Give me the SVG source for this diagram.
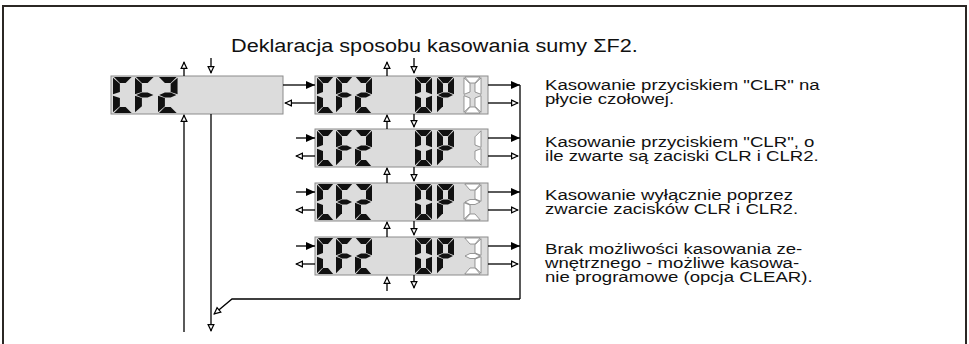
<svg xmlns="http://www.w3.org/2000/svg" xmlns:xlink="http://www.w3.org/1999/xlink" width="969" height="344" viewBox="0 0 969 344">
<style>
.frame{fill:none;stroke:#2b2724;stroke-width:2}
.box{fill:#dcdcdc;stroke:#8c8c8c;stroke-width:1}
.on{fill:#111111}
.off{fill:#ffffff;stroke:#707070;stroke-width:0.7}
.ln{fill:none;stroke:#000;stroke-width:1.3}
.f{marker-end:url(#af)}
.h{marker-end:url(#ah)}
text{font-family:"Liberation Sans",Arial,sans-serif;fill:#111}
.t{font-size:15.5px}
.title{font-size:19px}
</style>
<defs>
<marker id="af" markerUnits="userSpaceOnUse" markerWidth="12" markerHeight="10" refX="9" refY="4" orient="auto" overflow="visible"><path d="M0,0 L9,4 L0,8 z" fill="#000"/></marker>
<marker id="ah" markerUnits="userSpaceOnUse" markerWidth="12" markerHeight="10" refX="7" refY="3.5" orient="auto" overflow="visible"><path d="M0.6,0.6 L6.6,3.5 L0.6,6.4 z" fill="#fff" stroke="#000" stroke-width="1.2"/></marker>
<polygon id="sa" points="0.8,0 16.2,0 11,6 6,6"/>
<polygon id="sb" points="17,0.8 11,6.8 11,15 17,17.3"/>
<polygon id="sc" points="17,18.7 11,21 11,29.2 17,35.2"/>
<polygon id="sd" points="0.8,36 6,30 11,30 16.2,36"/>
<polygon id="se" points="0,18.7 6,21 6,29.2 0,35.2"/>
<polygon id="sf" points="0,0.8 6,6.8 6,15 0,17.3"/>
<polygon id="sg" points="1,18 6,15.5 11,15.5 16,18 11,20.5 6,20.5"/>
<g id="gC"><use xlink:href="#sa"/><use xlink:href="#sf"/><use xlink:href="#se"/><use xlink:href="#sd"/></g>
<g id="gF"><use xlink:href="#sa"/><use xlink:href="#sf"/><use xlink:href="#se"/><use xlink:href="#sg"/></g>
<g id="g2"><use xlink:href="#sa"/><use xlink:href="#sb"/><use xlink:href="#sg"/><use xlink:href="#se"/><use xlink:href="#sd"/></g>
<g id="g0"><use xlink:href="#sa"/><use xlink:href="#sb"/><use xlink:href="#sc"/><use xlink:href="#sd"/><use xlink:href="#se"/><use xlink:href="#sf"/></g>
<g id="gP"><use xlink:href="#sa"/><use xlink:href="#sb"/><use xlink:href="#sf"/><use xlink:href="#se"/><use xlink:href="#sg"/></g>
<g id="g1"><use xlink:href="#sb"/><use xlink:href="#sc"/></g>
<g id="g3"><use xlink:href="#sa"/><use xlink:href="#sb"/><use xlink:href="#sg"/><use xlink:href="#sc"/><use xlink:href="#sd"/></g>
<g id="rowbase"><rect class="box" x="0" y="0" width="173" height="38"/><use xlink:href="#gC" class="on" x="2" y="1"/><use xlink:href="#gF" class="on" x="21" y="1"/><use xlink:href="#g2" class="on" x="40" y="1"/><use xlink:href="#g0" class="on" x="100" y="1"/><use xlink:href="#gP" class="on" x="122" y="1"/></g>
</defs>

<path class="frame" d="M3,344 V6 H966 V344"/>

<text class="title" transform="translate(231,52) scale(1.14,1)" x="0" y="0">Deklaracja sposobu kasowania sumy ΣF2.</text>

<g id="node-cf2">
<rect class="box" x="111" y="76" width="172" height="38"/>
<g transform="translate(113,77) scale(1.15,1)"><use xlink:href="#gC" class="on"/></g>
<g transform="translate(135,77) scale(1.15,1)"><use xlink:href="#gF" class="on"/></g>
<g transform="translate(158,77) scale(1.15,1)"><use xlink:href="#g2" class="on"/></g>
</g>

<g id="node-op0" transform="translate(315,76)"><use xlink:href="#rowbase"/><use xlink:href="#g0" class="off" x="149" y="1"/></g>
<g id="node-op1" transform="translate(315,129)"><use xlink:href="#rowbase"/><use xlink:href="#g1" class="off" x="149" y="1"/></g>
<g id="node-op2" transform="translate(315,183)"><use xlink:href="#rowbase"/><use xlink:href="#g2" class="off" x="149" y="1"/></g>
<g id="node-op3" transform="translate(315,237)"><use xlink:href="#rowbase"/><use xlink:href="#g3" class="off" x="149" y="1"/></g>

<g id="connectors">
<path class="ln h" d="M184,76 V62"/>
<path class="ln h" d="M211,58 V73"/>
<path class="ln h" d="M184,332 V115"/>
<path class="ln h" d="M211,114 V331"/>
<path class="ln f" d="M283,85 H315"/>
<path class="ln h" d="M315,103 H285"/>
<path class="ln" d="M520,85 V299"/>
<path class="ln h" d="M520,299 H232 L214,314"/>
<path class="ln f" d="M488,85 H520"/>
<path class="ln h" d="M488,103 H518"/>
<path class="ln f" d="M488,138 H520"/>
<path class="ln h" d="M488,156 H518"/>
<path class="ln f" d="M488,192 H520"/>
<path class="ln h" d="M488,210 H518"/>
<path class="ln f" d="M488,246 H520"/>
<path class="ln h" d="M488,264 H518"/>
<path class="ln f" d="M296,138 H315"/>
<path class="ln h" d="M315,156 H296"/>
<path class="ln f" d="M296,192 H315"/>
<path class="ln h" d="M315,210 H296"/>
<path class="ln f" d="M296,246 H315"/>
<path class="ln h" d="M315,264 H296"/>
<path class="ln h" d="M387,76 V62"/>
<path class="ln h" d="M414,58 V73"/>
<path class="ln h" d="M387,129 V115"/>
<path class="ln h" d="M414,114 V127"/>
<path class="ln h" d="M387,183 V168"/>
<path class="ln h" d="M414,167 V181"/>
<path class="ln h" d="M387,237 V222"/>
<path class="ln h" d="M414,221 V235"/>
<path class="ln h" d="M387,291 V277"/>
<path class="ln h" d="M414,275 V288"/>
</g>

<g id="labels">
<text class="t" transform="translate(545,90) scale(1.2,1)"><tspan x="0" y="0">Kasowanie przyciskiem "CLR" na</tspan><tspan x="0" y="14">płycie czołowej.</tspan></text>
<text class="t" transform="translate(545,147) scale(1.2,1)"><tspan x="0" y="0">Kasowanie przyciskiem "CLR", o</tspan><tspan x="0" y="14">ile zwarte są zaciski CLR i CLR2.</tspan></text>
<text class="t" transform="translate(545,200) scale(1.2,1)"><tspan x="0" y="0">Kasowanie wyłącznie poprzez</tspan><tspan x="0" y="14">zwarcie zacisków CLR i CLR2.</tspan></text>
<text class="t" transform="translate(545,254) scale(1.2,1)"><tspan x="0" y="0">Brak możliwości kasowania ze-</tspan><tspan x="0" y="14">wnętrznego - możliwe kasowa-</tspan><tspan x="0" y="28">nie programowe (opcja CLEAR).</tspan></text>
</g>
</svg>
